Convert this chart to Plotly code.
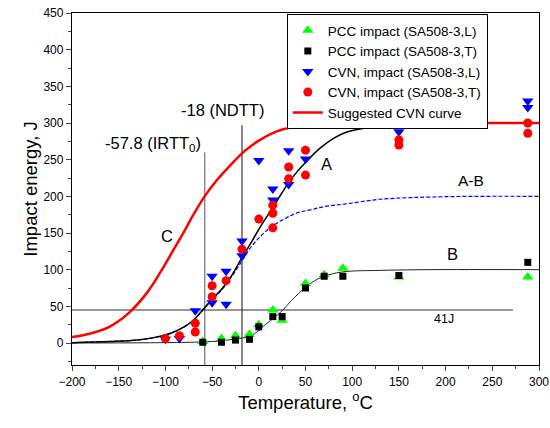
import plotly.graph_objects as go

# ---- data ----
pcc_L_T = [-60, -40, -25, -10, 0, 15, 25, 50, 70, 90, 150, 288]
pcc_L_E = [2, 6, 10, 12, 25, 45, 31, 81, 93, 102, 90, 90]
pcc_T_T = [-60, -40, -25, -10, 0, 15, 25, 50, 70, 90, 150, 288]
pcc_T_E = [1, 1, 4, 5, 22, 36, 36, 75, 91, 91, 92, 110]
cvn_L_T = [-100, -85, -68, -50, -50, -35, -35, -18, -18, 0, 15, 15, 32, 32, 50, 150, 150, 288, 288]
cvn_L_E = [5, 6, 44, 91, 55, 98, 53, 139, 119, 249, 210, 195, 262, 216, 251, 308, 288, 330, 321]
cvn_T_T = [-100, -85, -68, -68, -50, -50, -35, -18, 0, 15, 15, 15, 32, 32, 50, 50, 150, 150, 288, 288]
cvn_T_E = [6, 10, 27, 15, 78, 63, 85, 128, 169, 188, 177, 157, 240, 224, 263, 229, 277, 270, 300, 286]

# curves
curveC_T = [-200, -180, -160, -140, -120, -100, -90, -80, -70, -58, -45, -30, -15, 0, 20, 40, 60, 90, 130, 200, 300]
curveC_E = [8, 13, 22, 40, 68, 108, 130, 152, 175, 200, 222, 243, 262, 276, 289, 295, 298, 299.5, 300, 300, 300]
curveA_T = [-200, -160, -130, -110, -95, -80, -70, -60, -50, -40, -30, -20, -10, 0, 10, 20, 30, 40, 50, 65, 80, 95, 130, 180, 300]
curveA_E = [0.5, 2, 4, 8, 13, 22, 31, 45, 60, 73, 90, 112, 133, 155, 175, 195, 215, 232, 246, 265, 279, 288, 296, 299, 300]
curveAB_T = [-200, -160, -130, -110, -95, -80, -70, -60, -50, -40, -30, -20, -10, 0, 10, 20, 30, 40, 60, 70, 95, 130, 200, 300]
curveAB_E = [0.5, 2, 4, 8, 13, 22, 31, 45, 59, 72, 89, 108, 128, 143, 155, 164, 171, 177, 183, 186, 190, 196, 199.5, 200]
curveB_T = [-200, -100, -60, -40, -25, -10, 0, 5, 15, 25, 35, 50, 60, 70, 90, 130, 180, 300]
curveB_E = [0, 0.5, 1.5, 3, 5.5, 9, 17, 23, 33, 44, 58, 76, 85, 91, 97, 99, 100, 100]

level41_T = [-200, 272]
level41_E = [45, 45]
irtt_T = -57.8
irtt_top = 260
ndtt_T = -18
ndtt_top = 297

x_ticks = list(range(-200, 301, 50))
y_ticks = list(range(0, 451, 50))

FONT = "Arial, Liberation Sans, sans-serif"

fig = go.Figure()

# reference lines
fig.add_trace(go.Scatter(x=level41_T, y=level41_E, mode="lines",
                         line=dict(color="#333333", width=1), showlegend=False, hoverinfo="skip"))
fig.add_trace(go.Scatter(x=[irtt_T, irtt_T], y=[-30, irtt_top], mode="lines",
                         line=dict(color="#555555", width=1), showlegend=False, hoverinfo="skip"))
fig.add_trace(go.Scatter(x=[ndtt_T, ndtt_T], y=[-30, ndtt_top], mode="lines",
                         line=dict(color="#111111", width=1), showlegend=False, hoverinfo="skip"))

# fitted curves
fig.add_trace(go.Scatter(x=curveB_T, y=curveB_E, mode="lines", line_shape="spline",
                         line=dict(color="#222222", width=1), showlegend=False, hoverinfo="skip"))
fig.add_trace(go.Scatter(x=curveAB_T, y=curveAB_E, mode="lines", line_shape="spline",
                         line=dict(color="#0000FF", width=1.2, dash="4px,2px"), showlegend=False, hoverinfo="skip"))
fig.add_trace(go.Scatter(x=curveA_T, y=curveA_E, mode="lines", line_shape="spline",
                         line=dict(color="black", width=1.5), showlegend=False, hoverinfo="skip"))

# data markers
fig.add_trace(go.Scatter(x=pcc_L_T, y=pcc_L_E, mode="markers", name="PCC impact (SA508-3,L)",
                         marker=dict(symbol="triangle-up", color="#00FF00", size=10)))
fig.add_trace(go.Scatter(x=pcc_T_T, y=pcc_T_E, mode="markers", name="PCC impact (SA508-3,T)",
                         marker=dict(symbol="square", color="black", size=7)))
fig.add_trace(go.Scatter(x=cvn_L_T, y=cvn_L_E, mode="markers", name="CVN, impact (SA508-3,L)",
                         marker=dict(symbol="triangle-down", color="#0000FF", size=10)))
fig.add_trace(go.Scatter(x=cvn_T_T, y=cvn_T_E, mode="markers", name="CVN, impact (SA508-3,T)",
                         marker=dict(symbol="circle", color="#FF0000", size=9)))
fig.add_trace(go.Scatter(x=curveC_T, y=curveC_E, mode="lines", line_shape="spline", name="Suggested CVN curve",
                         line=dict(color="#FF0000", width=2.5)))

anns = [
    dict(x=-113.5, y=271, text="-57.8 (IRTT<sub>0</sub>)", font=dict(size=16.5)),
    dict(x=-39, y=318, text="-18 (NDTT)", font=dict(size=16.5)),
    dict(x=73, y=244, text="A", font=dict(size=16.5)),
    dict(x=227, y=222, text="A-B", font=dict(size=15.5)),
    dict(x=207, y=121, text="B", font=dict(size=16.5)),
    dict(x=-98, y=146, text="C", font=dict(size=16.5)),
    dict(x=198, y=33, text="41J", font=dict(size=12.5)),
]
for a in anns:
    a.update(showarrow=False, xref="x", yref="y", xanchor="center", yanchor="middle")
    a["font"]["color"] = "black"
    a["font"]["family"] = FONT

fig.update_layout(
    width=550, height=428,
    margin=dict(l=72, r=11, t=13, b=63),
    paper_bgcolor="white", plot_bgcolor="white",
    font=dict(family=FONT, color="black", size=12),
    annotations=anns,
    legend=dict(x=0.46, y=0.997, xanchor="left", yanchor="top",
                bgcolor="white", bordercolor="black", borderwidth=1,
                font=dict(size=13.5), tracegroupgap=0),
    xaxis=dict(range=[-200, 300], tickvals=x_ticks, ticks="outside", ticklen=5, tickwidth=1,
               minor=dict(dtick=25, ticks="outside", ticklen=3, tickwidth=1),
               showline=True, linecolor="black", linewidth=1.3, mirror=True, automargin=False,
               ticklabeloverflow="allow",
               showgrid=False, zeroline=False, tickfont=dict(size=12),
               title=dict(text="Temperature, <sup>o</sup>C", font=dict(size=18.5), standoff=8)),
    yaxis=dict(range=[-30, 450], tickvals=y_ticks, ticks="outside", ticklen=5, tickwidth=1,
               minor=dict(dtick=25, tick0=0, ticks="outside", ticklen=3, tickwidth=1),
               showline=True, linecolor="black", linewidth=1.3, mirror=True, automargin=False,
               ticklabeloverflow="allow",
               showgrid=False, zeroline=False, tickfont=dict(size=12),
               title=dict(text="Impact energy, J", font=dict(size=18.5), standoff=0)),
)

# remove the browser's default 8px body margin so the figure fills the window exactly
fig.write_html("out.html",
               config=dict(displayModeBar=False),
               post_script="document.body.style.margin='0';document.body.style.overflow='hidden';")
